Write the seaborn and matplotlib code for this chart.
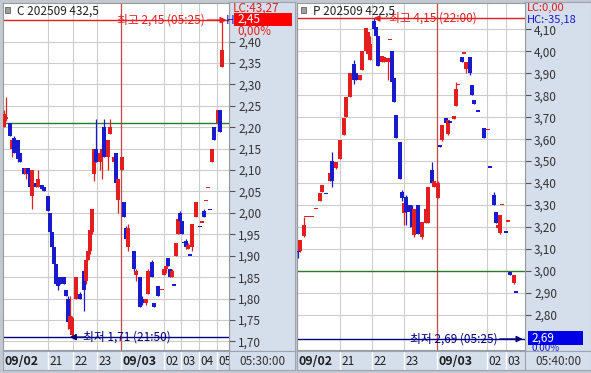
import numpy as np
import pandas as pd
import matplotlib
matplotlib.use("Agg")
import matplotlib.pyplot as plt
import seaborn as sns
from matplotlib.patches import Rectangle
from matplotlib.ticker import FuncFormatter

W, H = 591, 373

# ---- left contract: C 202509 432,5 (5-min bars, slot = bar position) ----
c_slot = [0, 1, 3, 4, 5, 7, 8, 10, 11, 12, 13, 14, 16, 17, 19, 20, 22, 23, 24, 25,
          26, 27, 28, 30, 31, 32, 33, 34, 36, 38, 40, 41, 42, 43, 44, 45, 46, 48, 49, 50,
          52, 53, 55, 56, 57, 59, 60, 61, 62, 65, 66, 68, 69, 71, 72, 74, 75, 77, 79, 80,
          81, 82, 83, 84, 85, 86, 87, 88, 89, 90, 91, 92, 93, 94, 96, 98, 99, 100, 101, 102,
          103, 104, 105, 107, 108, 109]
c_open = [2.20, 2.22, 2.21, 2.15, 2.175, 2.17, 2.14, 2.105, 2.09, 2.105, 2.09, 2.04, 2.07, 2.06, 2.065, 2.06, 2.04, 2.00, 1.955, 1.92,
          1.88, 1.85, 1.85, 1.85, 1.82, 1.80, 1.73, 1.715, 1.80, 1.81, 1.865, 1.84, 1.89, 1.91, 1.955, 2.09, 2.15, 2.12, 2.13, 2.20,
          2.13, 2.185, 2.12, 2.14, 2.03, 2.10, 2.025, 1.965, 1.92, 1.91, 1.855, 1.85, 1.80, 1.79, 1.81, 1.885, 1.79, 1.83, 1.82, 1.855,
          1.87, 1.895, 1.87, 1.85, 1.83, 1.90, 1.95, 2.00, 1.98, 1.93, 1.935, 1.915, 1.90, 1.92, 1.99, 1.967, 1.977, 2.005, 2.028, 2.058,
          2.007, 2.12, 2.20, 2.21, 2.24, 2.34]
c_high = [2.24, 2.27, 2.21, 2.17, 2.18, 2.17, 2.14, 2.105, 2.105, 2.105, 2.09, 2.10, 2.07, 2.10, 2.065, 2.06, 2.04, 2.00, 1.955, 1.92,
          1.88, 1.85, 1.85, 1.85, 1.82, 1.805, 1.805, 1.76, 1.85, 1.815, 1.87, 1.89, 1.915, 1.96, 2.01, 2.15, 2.22, 2.15, 2.16, 2.22,
          2.17, 2.22, 2.13, 2.14, 2.08, 2.13, 2.025, 1.97, 1.975, 1.91, 1.87, 1.85, 1.805, 1.80, 1.87, 1.89, 1.79, 1.83, 1.82, 1.87,
          1.875, 1.895, 1.87, 1.87, 1.83, 1.93, 1.99, 2.005, 1.98, 1.93, 1.94, 1.93, 1.90, 1.975, 2.025, 1.967, 1.977, 2.01, 2.028, 2.058,
          2.007, 2.15, 2.20, 2.24, 2.24, 2.45]
c_low = [2.20, 2.215, 2.18, 2.13, 2.14, 2.12, 2.12, 2.09, 2.08, 2.09, 2.058, 2.01, 2.06, 2.06, 2.055, 2.05, 2.005, 1.95, 1.92, 1.88,
         1.835, 1.82, 1.835, 1.835, 1.805, 1.73, 1.725, 1.71, 1.80, 1.80, 1.77, 1.835, 1.89, 1.905, 1.95, 2.075, 2.12, 2.10, 2.08, 2.13,
         2.10, 2.185, 2.115, 2.05, 2.00, 2.10, 1.99, 1.935, 1.91, 1.865, 1.84, 1.78, 1.785, 1.785, 1.81, 1.85, 1.78, 1.805, 1.82, 1.855,
         1.86, 1.875, 1.85, 1.85, 1.83, 1.90, 1.95, 1.975, 1.95, 1.93, 1.915, 1.915, 1.90, 1.91, 1.99, 1.967, 1.977, 1.99, 2.028, 2.058,
         2.007, 2.12, 2.17, 2.21, 2.19, 2.34]
c_close = [2.23, 2.225, 2.18, 2.17, 2.14, 2.125, 2.12, 2.09, 2.105, 2.09, 2.06, 2.10, 2.06, 2.08, 2.055, 2.05, 2.005, 1.955, 1.92, 1.88,
           1.835, 1.83, 1.835, 1.835, 1.805, 1.745, 1.76, 1.755, 1.85, 1.80, 1.82, 1.89, 1.91, 1.96, 2.01, 2.15, 2.12, 2.14, 2.15, 2.13,
           2.17, 2.20, 2.13, 2.07, 2.08, 2.13, 1.99, 1.94, 1.965, 1.87, 1.865, 1.78, 1.79, 1.80, 1.865, 1.85, 1.78, 1.805, 1.82, 1.87,
           1.875, 1.875, 1.85, 1.865, 1.83, 1.93, 1.985, 1.98, 1.95, 1.93, 1.92, 1.925, 1.90, 1.975, 2.025, 1.967, 1.977, 1.99, 2.028, 2.058,
           2.007, 2.15, 2.17, 2.24, 2.19, 2.38]
c_hour_slots = [22, 34.5, 46.5, 58.5, 80, 88.5, 97.5, 106.5]
c_hour_labels = ["21", "22", "23", "09/03", "02", "03", "04", "05"]
c_yticks = [1.70, 1.75, 1.80, 1.85, 1.90, 1.95, 2.00, 2.05, 2.10, 2.15, 2.20, 2.25, 2.30, 2.35, 2.40]
c_prev_close = 2.21

# ---- right contract: P 202509 422,5 ----
p_slot = [0, 1, 3, 4, 6, 7, 9, 11, 12, 14, 16, 17, 19, 21, 23, 24, 26, 28, 29, 31,
          32, 34, 35, 36, 38, 39, 40, 42, 43, 45, 46, 47, 48, 49, 51, 52, 53, 54, 56, 57,
          58, 60, 62, 64, 65, 67, 68, 70, 71, 72, 74, 75, 76, 78, 79, 80, 82, 83, 84, 86,
          87, 88, 90, 93, 95, 96, 98, 99, 100, 101, 102, 104, 105, 106, 108, 109]
p_open = [3.09, 3.09, 3.16, 3.245, 3.245, 3.245, 3.28, 3.32, 3.36, 3.35, 3.41, 3.50, 3.47, 3.51, 3.62, 3.70, 3.79, 3.94, 3.90, 3.87,
          3.915, 4.00, 3.99, 3.96, 4.14, 4.11, 4.07, 3.95, 3.95, 3.95, 4.05, 4.00, 3.88, 3.71, 3.585, 3.36, 3.265, 3.335, 3.30, 3.28,
          3.165, 3.30, 3.155, 3.22, 3.22, 3.46, 3.38, 3.33, 3.575, 3.595, 3.695, 3.625, 3.675, 3.69, 3.75, 3.845, 3.975, 3.99, 3.92, 3.975,
          3.845, 3.78, 3.725, 3.65, 3.64, 3.47, 3.345, 3.27, 3.195, 3.175, 3.30, 3.175, 3.225, 2.995, 2.945, 2.90]
p_high = [3.09, 3.14, 3.245, 3.245, 3.245, 3.245, 3.28, 3.355, 3.39, 3.35, 3.445, 3.54, 3.495, 3.595, 3.695, 3.79, 3.90, 3.96, 3.90, 3.89,
          4.00, 4.105, 4.09, 4.07, 4.15, 4.11, 4.07, 3.98, 3.975, 3.97, 4.05, 4.00, 3.88, 3.71, 3.585, 3.37, 3.31, 3.345, 3.30, 3.30,
          3.28, 3.30, 3.225, 3.28, 3.38, 3.495, 3.41, 3.41, 3.575, 3.665, 3.695, 3.685, 3.675, 3.705, 3.86, 3.845, 3.975, 3.99, 3.95, 3.975,
          3.845, 3.78, 3.725, 3.65, 3.64, 3.47, 3.36, 3.27, 3.21, 3.255, 3.30, 3.175, 3.225, 2.995, 2.98, 2.90]
p_low = [3.06, 3.085, 3.155, 3.245, 3.245, 3.245, 3.28, 3.32, 3.36, 3.35, 3.41, 3.38, 3.465, 3.51, 3.62, 3.70, 3.79, 3.85, 3.87, 3.87,
         3.915, 4.00, 3.99, 3.96, 4.10, 4.07, 3.935, 3.95, 3.95, 3.87, 4.05, 3.86, 3.77, 3.605, 3.42, 3.32, 3.21, 3.21, 3.20, 3.20,
         3.155, 3.17, 3.145, 3.22, 3.22, 3.40, 3.38, 3.33, 3.565, 3.59, 3.675, 3.62, 3.675, 3.69, 3.75, 3.845, 3.95, 3.99, 3.90, 3.89,
         3.80, 3.76, 3.725, 3.605, 3.64, 3.47, 3.30, 3.22, 3.19, 3.17, 3.30, 3.175, 3.225, 2.98, 2.94, 2.90]
p_close = [3.085, 3.14, 3.21, 3.245, 3.245, 3.245, 3.28, 3.355, 3.39, 3.35, 3.445, 3.41, 3.495, 3.595, 3.695, 3.79, 3.90, 3.87, 3.87, 3.89,
           4.00, 4.105, 4.09, 4.035, 4.10, 4.07, 3.935, 3.98, 3.975, 3.97, 4.05, 3.86, 3.77, 3.605, 3.42, 3.33, 3.31, 3.27, 3.27, 3.20,
           3.28, 3.17, 3.225, 3.28, 3.38, 3.40, 3.41, 3.40, 3.565, 3.665, 3.675, 3.685, 3.675, 3.705, 3.83, 3.845, 3.95, 3.99, 3.95, 3.90,
           3.80, 3.76, 3.725, 3.605, 3.64, 3.47, 3.30, 3.22, 3.21, 3.255, 3.30, 3.175, 3.225, 2.98, 2.98, 2.90]
p_hour_slots = [21, 37, 53, 69.5, 94.5, 104]
p_hour_labels = ["21", "22", "23", "09/03", "02", "03"]
p_yticks = [2.80, 2.90, 3.00, 3.10, 3.20, 3.30, 3.40, 3.50, 3.60, 3.70, 3.80, 3.90, 4.00, 4.10]
p_prev_close = 3.00
p_session_low = 2.69  # low shown by the quote panel (05:25)

RED = "#e41e1e"
BLUE = "#1a1acd"
NAVY = "#000080"
GREEN = "#2b7a2b"
DATE_LINE = "#c84848"
AXIS_BG = "#d5deeb"
GRID = "#cdcdcd"


def px_rect(x0, y0, x1, y1):
    return [x0 / W, 1 - y1 / H, (x1 - x0) / W, (y1 - y0) / H]


def comma(v, _=None):
    return f"{v:.2f}".replace(".", ",")


def draw_candles(ax, df, px_per_unit):
    prev = df["close"].shift(1).fillna(df["open"])
    up = (df["close"] > df["open"]) | ((df["close"] == df["open"]) & (df["close"] >= prev))
    colors = np.where(up, RED, BLUE)
    ax.vlines(df["slot"], df["low"], df["high"], colors=colors, lw=0.9, zorder=3)
    body = (df["close"] - df["open"]).abs().clip(lower=1.4 / px_per_unit)
    bottom = np.minimum(df["open"], df["close"])
    ax.bar(df["slot"], body, bottom=bottom, width=1.6, color=colors, lw=0, zorder=4)


def draw_panel(fig, df, x0, x1, ylim, yticks, hours, labels, prev_close, end_time):
    n_slots = (x1 - x0) / 2
    # y-axis strip background
    bg = fig.add_axes(px_rect(x1, 2, x1 + 66, 351))
    bg.set_facecolor(AXIS_BG)
    bg.set_xticks([])
    bg.set_yticks([])
    for s in bg.spines.values():
        s.set_color("#9aa4b4")

    ax = fig.add_axes(px_rect(x0, 3, x1, 350))
    ax.set_facecolor("white")
    ax.set_xlim(-0.5, n_slots - 0.5)
    ax.set_ylim(*ylim)
    ax.set_axisbelow(True)
    ax.yaxis.tick_right()
    ax.set_yticks(yticks)
    ax.yaxis.set_major_formatter(FuncFormatter(comma))
    ax.set_xticks(hours)
    ax.tick_params(axis="x", length=0, labelbottom=False)
    ax.tick_params(axis="y", direction="out", length=4, width=0.8, color="#555555",
                   pad=2.5, labelsize=8.5, labelcolor="#333333")
    ax.grid(True, color=GRID, lw=0.8)
    for s in ax.spines.values():
        s.set_color("#9a9a9a")
        s.set_linewidth(0.8)
    for h, lab in zip(hours, labels):
        if "/" in lab:
            ax.axvline(h, color=DATE_LINE, lw=0.9, zorder=2)
    ax.axhline(prev_close, color=GREEN, lw=1.0, zorder=2)
    px_per_unit = 347 / (ylim[1] - ylim[0])
    draw_candles(ax, df, px_per_unit)

    # time band below
    band = fig.add_axes(px_rect(x0, 351, x1, 370))
    band.set_zorder(5)
    band.set_facecolor(AXIS_BG)
    band.set_xlim(-0.5, n_slots - 0.5)
    band.set_ylim(0, 1)
    band.set_xticks([])
    band.set_yticks([])
    for s in band.spines.values():
        s.set_color("#9aa4b4")
    band.vlines(hours, 0, 1, colors="white", lw=1.0)
    band.text(0.2, 0.45, "09/02", fontsize=9, fontweight="bold", color="#202020",
              va="center", ha="left", clip_on=True)
    for h, lab in zip(hours, labels):
        band.text(h + 0.7, 0.45, lab, fontsize=9 if "/" in lab else 8.5,
                  fontweight="bold" if "/" in lab else "normal", color="#202020",
                  va="center", ha="left", clip_on=True)
    corner = fig.add_axes(px_rect(x1, 351, x1 + 66, 370))
    corner.set_zorder(5)
    corner.set_facecolor(AXIS_BG)
    corner.set_xticks([])
    corner.set_yticks([])
    for s in corner.spines.values():
        s.set_color("#9aa4b4")
    corner.text(0.5, 0.45, end_time, fontsize=8.5, color="#333333", ha="center",
                va="center", transform=corner.transAxes)
    return ax


def arrow(ax, y, x_from, x_to, color):
    tr = ax.get_yaxis_transform()
    ax.annotate("", xy=(x_to, y), xytext=(x_from, y), xycoords=tr, textcoords=tr,
                arrowprops=dict(arrowstyle="-|>", color=color, lw=1.0,
                                mutation_scale=9, shrinkA=0, shrinkB=0), zorder=6)


sns.set_style("white")
plt.rcParams["font.family"] = ["Noto Sans CJK KR", "DejaVu Sans"]

c_df = pd.DataFrame({"slot": c_slot, "open": c_open, "high": c_high, "low": c_low, "close": c_close})
p_df = pd.DataFrame({"slot": p_slot, "open": p_open, "high": p_high, "low": p_low, "close": p_close})

fig = plt.figure(figsize=(W / 100, H / 100), dpi=100)
fig.patch.set_facecolor("#c4c8d0")

c_hi, c_lo = c_df["high"].max(), c_df["low"].min()
p_hi, p_lo = p_df["high"].max(), p_session_low

# left panel
ax1 = draw_panel(fig, c_df, 3, 229, (1.68, 2.49), c_yticks, c_hour_slots, c_hour_labels,
                 c_prev_close, "05:30:00")
ax1.axhline(c_hi, color=RED, lw=1.0, zorder=2)
ax1.axhline(c_lo, color=NAVY, lw=1.0, zorder=2)
tr1 = ax1.get_yaxis_transform()
ax1.text(0.893, c_hi, f"최고 {comma(c_hi)} (05:25)", transform=tr1, color=RED, fontsize=8.5,
         ha="right", va="center", zorder=6)
arrow(ax1, c_hi, 0.905, 0.99, RED)
ax1.text(0.355, c_lo, f"최저 {comma(c_lo)} (21:50)", transform=tr1, color=NAVY, fontsize=8.5,
         ha="left", va="center", zorder=6)
arrow(ax1, c_lo, 0.36, 0.295, NAVY)

# right panel
ax2 = draw_panel(fig, p_df, 297, 525, (2.64, 4.22), p_yticks, p_hour_slots, p_hour_labels,
                 p_prev_close, "05:40:00")
ax2.axvline(-0.5, color=DATE_LINE, lw=1.5, zorder=2)
ax2.axhline(p_hi, color=RED, lw=1.0, zorder=2)
ax2.axhline(p_lo, color=NAVY, lw=1.0, zorder=2)
tr2 = ax2.get_yaxis_transform()
ax2.text(0.405, p_hi, f"최고 {comma(p_hi)} (22:00)", transform=tr2, color=RED, fontsize=8.5,
         ha="left", va="center", zorder=6)
arrow(ax2, p_hi, 0.405, 0.335, RED)
ax2.text(0.882, p_lo, f"최저 {comma(p_lo)} (05:25)", transform=tr2, color=NAVY, fontsize=8.5,
         ha="right", va="center", zorder=6)
arrow(ax2, p_lo, 0.89, 0.99, NAVY)

# titles
for x, name in [(5, "C 202509 432,5"), (301, "P 202509 422,5")]:
    fig.add_artist(Rectangle((x / W, 1 - 13 / H), 5 / W, 6 / H, transform=fig.transFigure,
                             facecolor="#a0a0a0", edgecolor="#606060", lw=0.6, zorder=4))
    fig.text((x + 12) / W, 1 - 11 / H, name, fontsize=8.5, color="#202020", va="center", ha="left")

# quote boxes in the y-axis strips
fig.text(233 / W, 1 - 8 / H, "LC:43,27", fontsize=8.5, color=RED, va="center")
fig.text(234 / W, 1 - 20 / H, "H", fontsize=8.5, color=BLUE, va="center", ha="right")
fig.add_artist(Rectangle((234 / W, 1 - 26 / H), 58 / W, 13 / H, transform=fig.transFigure,
                         facecolor="#ff0000", edgecolor="none", zorder=4))
fig.text(237 / W, 1 - 19.5 / H, comma(c_hi), fontsize=8.5, color="white", va="center", zorder=5)
fig.text(237 / W, 1 - 31 / H, "0,00%", fontsize=8.5, color=RED, va="center")

fig.text(527 / W, 1 - 7.5 / H, "LC:0,00", fontsize=8, color=RED, va="center")
fig.text(527 / W, 1 - 20 / H, "HC:-35,18", fontsize=8, color=BLUE, va="center")
fig.add_artist(Rectangle((528 / W, 1 - 345 / H), 55 / W, 14 / H, transform=fig.transFigure,
                         facecolor="#0000e6", edgecolor="none", zorder=4))
fig.text(531 / W, 1 - 338 / H, comma(p_lo), fontsize=8.5, color="white", va="center", zorder=5)
fig.text(531 / W, 1 - 348 / H, "0,00%", fontsize=7, color=BLUE, va="center", zorder=3)

fig.savefig("out.png", dpi=100, facecolor=fig.get_facecolor())
